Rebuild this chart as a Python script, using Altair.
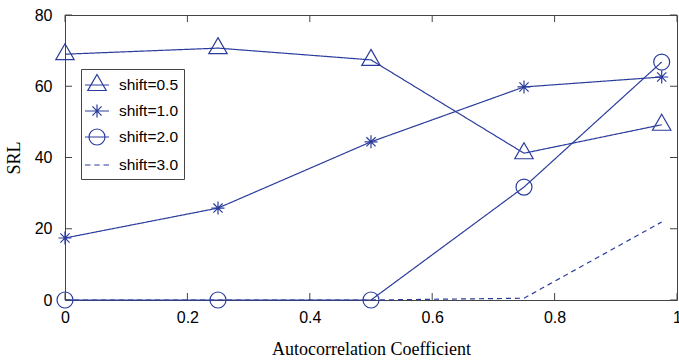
import altair as alt
import pandas as pd

# Autocorrelation coefficient (x) and SRL for each shift size
x_vals = [0.0, 0.25, 0.5, 0.75, 0.975]
srl_shift_05 = [69.0, 70.7, 67.4, 41.2, 49.2]
srl_shift_10 = [17.4, 25.8, 44.4, 59.8, 62.6]
srl_shift_20 = [0.0, 0.0, 0.0, 31.7, 66.8]
srl_shift_30 = [0.0, 0.0, 0.0, 0.5, 21.9]

series_labels = ["shift=0.5", "shift=1.0", "shift=2.0", "shift=3.0"]
x_ticks = [0, 0.2, 0.4, 0.6, 0.8, 1]
y_ticks = [0, 20, 40, 60, 80]

BLUE = "#2b3d9c"
FRAME = "#444444"
W, H = 612, 285
TICK = 7

rows = []
for label, ys in zip(series_labels, [srl_shift_05, srl_shift_10, srl_shift_20, srl_shift_30]):
    for xv, yv in zip(x_vals, ys):
        rows.append({"x": xv, "srl": yv, "series": label})
df = pd.DataFrame(rows)
xt_df = pd.DataFrame({"x": x_ticks})
yt_df = pd.DataFrame({"srl": y_ticks})

# marker paths (unit = sqrt(size)/2 px)
TRI = "M0,-1.05L0.92,0.55H-0.92Z"
STAR = "M0,-0.65V0.65M-0.65,0H0.65M-0.46,-0.46L0.46,0.46M-0.46,0.46L0.46,-0.46"
CIRC = "M-0.8,0A0.8,0.8,0,1,1,0.8,0A0.8,0.8,0,1,1,-0.8,0Z"
SEG = "M-1.2,0H1.2"
DASHES = "M-1.2,0H-0.65M-0.27,0H0.27M0.65,0H1.2"

x_scale = alt.Scale(domain=[0, 1], nice=False, zero=False)
y_scale = alt.Scale(domain=[0, 80], nice=False, zero=False)

x_axis = alt.Axis(
    orient="bottom", values=x_ticks, format="~g", labelFlush=False,
    ticks=False, domain=False, grid=False,
    labelPadding=9, title="Autocorrelation Coefficient", titlePadding=15)
y_axis = alt.Axis(
    orient="left", values=y_ticks, format="d", labelFlush=False,
    ticks=False, domain=False, grid=False,
    labelPadding=13, title="SRL", titlePadding=11)

X = alt.X("x:Q", scale=x_scale, axis=x_axis)
Y = alt.Y("srl:Q", scale=y_scale, axis=y_axis)

base = alt.Chart(df)

lines = base.mark_line(color=BLUE, strokeWidth=1.2).encode(
    x=X,
    y=Y,
    strokeDash=alt.StrokeDash(
        "series:N",
        scale=alt.Scale(domain=series_labels, range=[[1, 0], [1, 0], [1, 0], [5, 4]]),
        legend=None,
    ),
)

markers = base.transform_filter(
    alt.datum.series != "shift=3.0"
).mark_point(filled=False, color=BLUE, strokeWidth=1.2, size=400, opacity=1).encode(
    x=X,
    y=Y,
    shape=alt.Shape(
        "series:N",
        scale=alt.Scale(domain=series_labels, range=[TRI, STAR, CIRC, CIRC]),
        legend=None,
    ),
)

# legend layer: invisible points whose legend shows marker + line sample
legend_layer = base.mark_point(filled=False, color=BLUE, strokeWidth=1.2, size=400, opacity=0).encode(
    x=X,
    y=Y,
    shape=alt.Shape(
        "series:N",
        scale=alt.Scale(domain=series_labels,
                        range=[TRI + SEG, STAR + SEG, CIRC + SEG, DASHES]),
        legend=alt.Legend(
            orient="none", legendX=16, legendY=54, title=None,
            labelFont="Liberation Sans", labelFontSize=15.5, labelColor="black",
            labelExpr="datum.label + '\u00a0\u00a0'",
            labelOffset=11, padding=5, rowPadding=6,
            strokeColor=FRAME, fillColor="white",
            symbolSize=400, symbolStrokeWidth=1.2, symbolStrokeColor=BLUE,
            symbolFillColor="transparent", symbolOpacity=1,
        ),
    ),
)

# inward tick marks on all four sides of the frame
def x_ticks_at(y0, y1):
    return alt.Chart(xt_df).mark_rule(color=FRAME, strokeWidth=1).encode(
        x=X, y=alt.value(y0), y2=alt.value(y1),
    )

def y_ticks_at(x0, x1):
    return alt.Chart(yt_df).mark_rule(color=FRAME, strokeWidth=1).encode(
        y=Y, x=alt.value(x0), x2=alt.value(x1),
    )

frame_ticks = [
    x_ticks_at(0, TICK), x_ticks_at(H - TICK, H),
    y_ticks_at(0, TICK), y_ticks_at(W - TICK, W),
]

chart = alt.layer(lines, markers, legend_layer, *frame_ticks).resolve_scale(
    shape="independent"
).properties(
    width=W, height=H,
    autosize=alt.AutoSizeParams(type="none"),
    padding={"left": 65, "top": 15, "right": 2, "bottom": 61},
    background="white",
).configure_view(
    stroke=FRAME, strokeWidth=1
).configure_axis(
    labelFont="Liberation Sans", labelFontSize=16, labelColor="black",
    titleFont="Liberation Serif", titleFontSize=18, titleFontWeight="normal",
    titleColor="black",
)

chart.save("out.html", embed_options={"renderer": "svg", "actions": False})
